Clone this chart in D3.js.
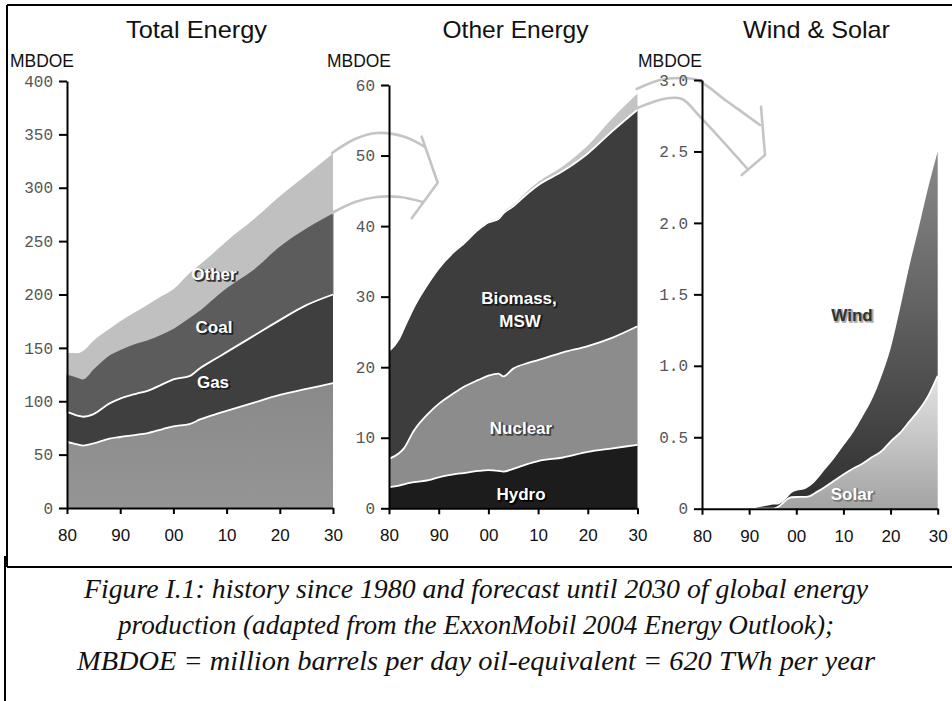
<!DOCTYPE html>
<html><head><meta charset="utf-8">
<script src="https://cdn.jsdelivr.net/npm/d3@7/dist/d3.min.js"></script>
<style>body{margin:0;background:#fff} svg{display:block}</style>
</head><body>
<svg id="c" width="952" height="701"></svg>
<script>
// ---------- DATA ----------
// Panel 1: Total Energy (MBDOE, layer values)
const years1 = [1980,1982,1983,1985,1988,1990,1993,1995,1998,2000,2003,2005,2008,2010,2015,2020,2025,2030];
const oil    = [62,59.5,58.5,60.5,65,66.5,68.5,70,74,76.5,78.5,83,88,91,98.5,106,111.5,117];
const gas    = [28,27,27,27.5,33,36,38.5,39.5,42,44,45,48,52,55,62.5,70,78.5,83];
const coal   = [35,35.5,35,42,45,45.5,47,47.5,47,47.5,54.5,54,58,60,62,69,72,76];
const otherE = [20.5,23,26.5,27,25,27,30,33,36,37,42,43,43,44,47,47,50,56];

// Panel 2: Other Energy
const years2  = [1980,1982,1983,1985,1988,1990,1993,1995,1998,2000,2002,2003,2005,2008,2010,2015,2020,2025,2030];
const hydro   = [3.0,3.2,3.4,3.7,4.0,4.4,4.8,5.0,5.3,5.4,5.3,5.2,5.6,6.3,6.7,7.2,8.0,8.5,9.0];
const nuclear = [4.0,4.6,5.1,7.3,9.5,10.4,11.5,12.2,12.9,13.4,13.8,13.5,14.2,14.3,14.3,14.9,15.0,15.7,16.8];
const biomass = [15.3,16.2,17.0,17.5,18.5,19.2,20.0,20.3,21.3,21.7,21.9,23.1,23.0,24.1,24.8,25.7,27.3,29.3,30.7];
const windSolar = [0,0,0,0,0,0,0,0.03,0.075,0.125,0.14,0.16,0.23,0.35,0.44,0.7,1.12,1.83,2.3];

// Panel 3: Wind & Solar
const years3 = [1980,1990,1991,1992,1994,1995,1996,1997,1998,1999,2000,2002,2003,2004,2006,2008,2010,2012,2014,2016,2018,2020,2022,2024,2026,2028,2030];
const solar  = [0,0,0,0,0,0,0.01,0.035,0.065,0.08,0.082,0.083,0.09,0.11,0.15,0.195,0.24,0.28,0.315,0.36,0.40,0.47,0.53,0.61,0.69,0.79,0.93];
const wind   = [0,0,0.004,0.01,0.022,0.03,0.02,0.01,0.01,0.03,0.043,0.057,0.07,0.08,0.12,0.155,0.2,0.25,0.325,0.4,0.52,0.65,0.87,1.09,1.28,1.46,1.57];

const xTicks = [1980,1990,2000,2010,2020,2030];
const xTickLabels = ["80","90","00","10","20","30"];
const yTicks1 = [0,50,100,150,200,250,300,350,400];
const yTicks2 = [0,10,20,30,40,50,60];
const yTicks3 = [0,0.5,1.0,1.5,2.0,2.5,3.0];
const titles = ["Total Energy","Other Energy","Wind & Solar"];
const unitLabel = "MBDOE";
const caption = [
  "Figure I.1: history since 1980 and forecast until 2030 of global energy",
  "production (adapted from the ExxonMobil 2004 Energy Outlook);",
  "MBDOE = million barrels per day oil-equivalent = 620 TWh per year"
];

// ---------- DRAWING ----------
const svg = d3.select('#c');
const defs = svg.append('defs');
function vgrad(id, y1, y2, c1, c2){
  const g = defs.append('linearGradient').attr('id', id)
    .attr('gradientUnits','userSpaceOnUse').attr('x1',0).attr('x2',0).attr('y1',y1).attr('y2',y2);
  g.append('stop').attr('offset',0).attr('stop-color',c1);
  g.append('stop').attr('offset',1).attr('stop-color',c2);
}

const SANS = "'Liberation Sans', Arial, sans-serif";

function panel(cfg){
  const {x, y, years, layers, whiteTops} = cfg;
  const g = svg.append('g');
  const rows = years.map((yr,i)=>{
    const r = {year: yr};
    layers.forEach(l => r[l.key] = l.values[i]);
    return r;
  });
  const series = d3.stack().keys(layers.map(l=>l.key))(rows);
  const area = d3.area().x(d=>x(d.data.year)).y0(d=>y(d[0])).y1(d=>y(d[1])).curve(d3.curveMonotoneX);
  g.selectAll('path.layer').data(series).join('path')
    .attr('class','layer')
    .attr('d', area)
    .attr('fill', (d,i)=>layers[i].fill)
    .attr('stroke', (d,i)=>layers[i].edge || 'none')
    .attr('stroke-width', 1);
  const line = d3.line().x(d=>x(d.data.year)).y(d=>y(d[1])).curve(d3.curveMonotoneX);
  whiteTops.forEach(k=>{
    const s = series.find(s=>s.key===k);
    g.append('path').attr('d', line(s)).attr('fill','none')
      .attr('stroke','#fff').attr('stroke-width',1.8);
  });
  return cfg;
}

function axes(cfg){
  const {x, y, yTicks, yFmt} = cfg;
  const ya = svg.append('g').attr('transform',`translate(${x.range()[0]},0)`)
    .call(d3.axisLeft(y).tickValues(yTicks).tickFormat(yFmt).tickSize(8).tickSizeOuter(0).tickPadding(6));
  ya.selectAll('text').attr('font-family',"'Liberation Mono', 'Courier New', monospace")
    .attr('font-size',16).attr('fill','#555');
  const xa = svg.append('g').attr('transform',`translate(0,${y(0)})`)
    .call(d3.axisBottom(x).tickValues(xTicks).tickFormat((d,i)=>xTickLabels[i]).tickSize(6).tickSizeOuter(0).tickPadding(15));
  xa.selectAll('text').attr('font-family',SANS).attr('font-size',17).attr('fill','#111');
  [ya, xa].forEach(a=>{
    a.select('.domain').attr('stroke','#000').attr('stroke-width',2);
    a.selectAll('.tick line').attr('stroke','#000').attr('stroke-width',2);
  });
}

// scales
const x1 = d3.scaleLinear([1980,2030],[67,333]);
const y1 = d3.scaleLinear([0,400],[508,81]);
const x2 = d3.scaleLinear([1980,2030],[389,637.5]);
const y2 = d3.scaleLinear([0,60],[508.3,85]);
const x3 = d3.scaleLinear([1980,2030],[702,937.7]);
const y3 = d3.scaleLinear([0,3],[508.7,80]);

vgrad('gOil', y1(120), y1(0), '#898989', '#959595');
vgrad('gWind', y3(0), y3(2.5), '#2e2e2e', '#8a8a8a');
vgrad('gSolar', y3(0.93), y3(0), '#e4e4e4', '#a3a3a3');

const p1 = panel({x:x1, y:y1, years:years1,
  layers:[
    {key:'oil', values:oil, fill:'url(#gOil)'},
    {key:'gas', values:gas, fill:'#3f3f3f'},
    {key:'coal', values:coal, fill:'#5c5c5c', edge:'#6e6e6e'},
    {key:'other', values:otherE, fill:'#c0c0c0'}
  ], whiteTops:['oil','gas'], yTicks:yTicks1, yFmt:d3.format('d')});

const p2 = panel({x:x2, y:y2, years:years2,
  layers:[
    {key:'hydro', values:hydro, fill:'#1c1c1c'},
    {key:'nuclear', values:nuclear, fill:'#8c8c8c'},
    {key:'biomass', values:biomass, fill:'#3d3d3d'},
    {key:'ws', values:windSolar, fill:'#c4c4c4'}
  ], whiteTops:['hydro','nuclear','biomass'], yTicks:yTicks2, yFmt:d3.format('d')});

const p3 = panel({x:x3, y:y3, years:years3,
  layers:[
    {key:'solar', values:solar, fill:'url(#gSolar)'},
    {key:'wind', values:wind, fill:'url(#gWind)'}
  ], whiteTops:['solar'], yTicks:yTicks3, yFmt:d=> d===0 ? '0' : d3.format('.1f')(d)});

// decorative arrows (annotation, pixel space)
const arrowPaths = [
  [[332,153],[355,139],[377,133],[405,137],[425,147]],
  [[332,213],[355,202],[377,197],[400,197],[423,202]],
  [[421.7,136.7],[437.7,182.7],[411.7,218.3]],
  [[636.7,89],[660,80],[680,78],[697,80],[728,102],[760,125]],
  [[636.7,108.3],[667,98.3],[682,99],[700,116.7],[746.7,168]],
  [[761,106.7],[765,155],[741.7,175]]
];
const curveLine = d3.line().curve(d3.curveCatmullRom);
const straightLine = d3.line();
arrowPaths.forEach((pts,i)=>{
  svg.append('path').attr('d', (i===2||i===5) ? straightLine(pts) : curveLine(pts))
    .attr('fill','none').attr('stroke','#c4c4c4').attr('stroke-width',2.6)
    .attr('stroke-linecap','round').attr('stroke-linejoin','round');
});

[p1,p2,p3].forEach(axes);

// titles and unit labels
const titleX = [196.5, 515.5, 816.5];
const titleW = [141, 146, 147];
titles.forEach((t,i)=>{
  svg.append('text').attr('x',titleX[i]).attr('y',38).attr('text-anchor','middle')
    .attr('font-family',SANS).attr('font-size',24).attr('textLength',titleW[i])
    .attr('lengthAdjust','spacingAndGlyphs').attr('fill','#111').text(t);
});
[10, 327, 638].forEach(xx=>{
  svg.append('text').attr('x',xx).attr('y',67).attr('font-family',SANS)
    .attr('font-size',18).attr('textLength',64).attr('lengthAdjust','spacingAndGlyphs')
    .attr('fill','#111').text(unitLabel);
});

// in-chart labels
function shadowText(x, y, t, fill, shadow){
  const g = svg.append('g').attr('font-family',SANS).attr('font-size',17)
    .attr('font-weight','bold').attr('text-anchor','middle');
  g.append('text').attr('x',x+1.3).attr('y',y+1.3).attr('fill',shadow)
    .attr('stroke',shadow).attr('stroke-width',1.4).text(t);
  g.append('text').attr('x',x).attr('y',y).attr('fill',fill).text(t);
}
shadowText(214, 280, 'Other', '#fff', '#333');
shadowText(214, 333, 'Coal', '#fff', '#222');
shadowText(213, 388, 'Gas', '#fff', '#222');
shadowText(519, 304, 'Biomass,', '#fff', '#1a1a1a');
shadowText(520, 327, 'MSW', '#fff', '#1a1a1a');
shadowText(521, 434, 'Nuclear', '#fff', '#444');
shadowText(521, 500, 'Hydro', '#fff', '#000');
shadowText(852, 321, 'Wind', '#333', '#aaa');
shadowText(852, 500, 'Solar', '#fff', '#777');

// frame
const frame = svg.append('g').attr('stroke','#000').attr('stroke-width',2).attr('fill','none');
frame.append('path').attr('d','M7,5H952');
frame.append('path').attr('d','M7,5V567');
frame.append('path').attr('d','M7,567H952');
frame.append('path').attr('d','M5,556V701');

// caption
const capW = [784, 716, 798];
const capY = [598, 634, 670];
caption.forEach((t,i)=>{
  svg.append('text').attr('x',476).attr('y',capY[i]).attr('text-anchor','middle')
    .attr('font-family',"'Liberation Serif', 'Times New Roman', serif").attr('font-style','italic')
    .attr('font-size',27).attr('textLength',capW[i]).attr('lengthAdjust','spacingAndGlyphs')
    .attr('fill','#111').text(t);
});
</script>
</body></html>
